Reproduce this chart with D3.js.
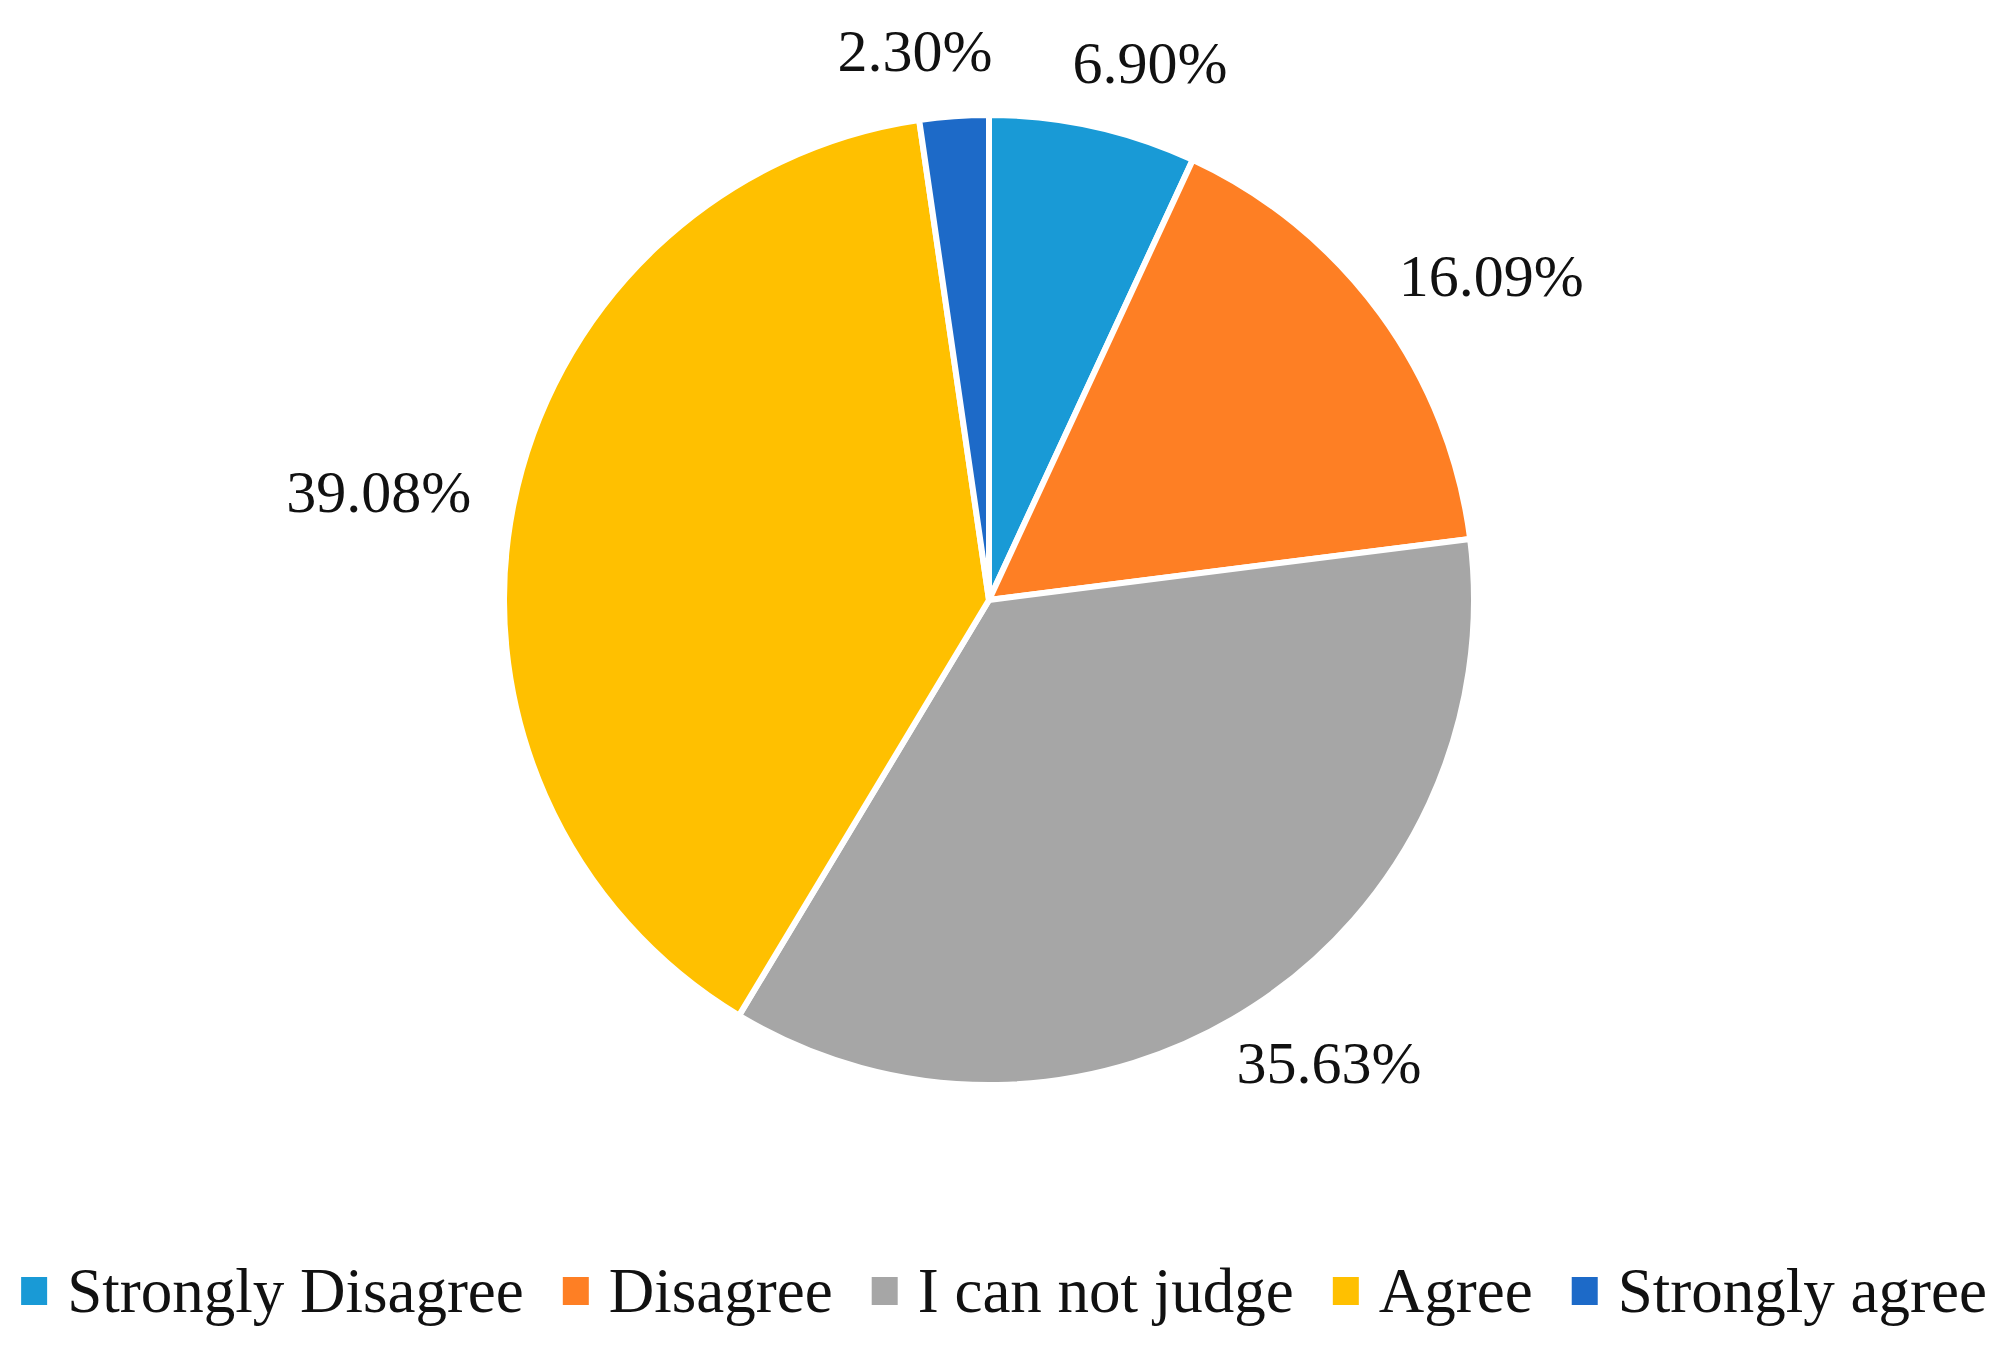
<!DOCTYPE html>
<html>
<head>
<meta charset="utf-8">
<script src="https://cdn.jsdelivr.net/npm/d3@7"></script>
<style>
  body { margin: 0; background: #fff; }
  text { font-family: "Liberation Serif", "DejaVu Serif", serif; fill: #111; }
</style>
</head>
<body>
<div class="chart"></div>
<script>
// Pie chart of survey answers
var categories = ["Strongly Disagree", "Disagree", "I can not judge", "Agree", "Strongly agree"];
var values = [6.90, 16.09, 35.63, 39.08, 2.30];
var labels = ["6.90%", "16.09%", "35.63%", "39.08%", "2.30%"];
var colors = ["#199ad6", "#fe7f24", "#a6a6a6", "#ffc000", "#1d6ac8"];

var svgWidth = 2012;
var svgHeight = 1366;
var cx = 989, cy = 600;
var radius = 485;

var svg = d3.select(".chart")
  .append("svg")
  .attr("width", svgWidth)
  .attr("height", svgHeight);

var data = categories.map(function(c, i) {
  return { name: c, value: values[i], label: labels[i] };
});

var color = d3.scaleOrdinal()
  .domain(categories)
  .range(colors);

// keep the data order, start at 12 o'clock, go clockwise
var pie = d3.pie()
  .sort(null)
  .value(function(d) { return d.value; });

var arc = d3.arc()
  .innerRadius(0)
  .outerRadius(radius);

var arcs = pie(data);

var chart = svg.append("g")
  .attr("transform", "translate(" + cx + "," + cy + ")");

chart.selectAll("path")
  .data(arcs)
  .enter()
  .append("path")
  .attr("d", arc)
  .attr("fill", function(d) { return color(d.data.name); })
  .attr("stroke", "#fff")
  .attr("stroke-width", 6)
  .attr("stroke-linejoin", "round");

// data labels just outside the slice, pushed out by half their box
var labelGap = 45;
var labelSize = 60;
var lbl = chart.selectAll(".lbl")
  .data(arcs)
  .enter()
  .append("text")
  .attr("class", "lbl")
  .attr("text-anchor", "middle")
  .attr("dy", "0.35em")
  .attr("font-size", labelSize + "px")
  .text(function(d) { return d.data.label; });

var boxes = [];
lbl.each(function(d) {
  var a = (d.startAngle + d.endAngle) / 2;
  var w = this.getComputedTextLength();
  var h = labelSize * 0.7;
  var r0 = radius + labelGap;
  var x = Math.sin(a) * r0 + Math.sin(a) * w / 2;
  var y = -Math.cos(a) * r0 - Math.cos(a) * h / 2;
  boxes.push({ node: this, x: x, y: y, w: w, h: h });
});

// spread labels that sit side by side (small slices at the top)
var minGap = 80;
for (var i = 0; i < boxes.length; i++) {
  for (var j = i + 1; j < boxes.length; j++) {
    var b1 = boxes[i], b2 = boxes[j];
    if (Math.abs(b1.y - b2.y) > b1.h) continue;
    var left = b1.x < b2.x ? b1 : b2;
    var right = left === b1 ? b2 : b1;
    var gap = (right.x - right.w / 2) - (left.x + left.w / 2);
    if (gap < minGap) {
      left.x -= (minGap - gap) / 2;
      right.x += (minGap - gap) / 2;
    }
  }
}
boxes.forEach(function(b) {
  d3.select(b.node).attr("x", b.x).attr("y", b.y);
});

// legend along the bottom, centred
var legendY = 1291;
var box = 26;
var legendSize = 63;
var legend = svg.append("g");

var items = legend.selectAll("g")
  .data(categories)
  .enter()
  .append("g");

items.append("rect")
  .attr("width", box)
  .attr("height", box + 2)
  .attr("y", legendY - box / 2 - 1)
  .attr("fill", function(d) { return color(d); });

items.append("text")
  .attr("x", box + 20)
  .attr("y", legendY)
  .attr("dy", "0.33em")
  .attr("font-size", legendSize + "px")
  .text(function(d) { return d; });

var xPos = 0;
items.each(function() {
  var t = d3.select(this).select("text").node().getComputedTextLength();
  d3.select(this).attr("transform", "translate(" + xPos + ",0)");
  xPos += box + 20 + t + 39;
});
var totalW = xPos - 39;
legend.attr("transform", "translate(" + (1004 - totalW / 2) + ",0)");
</script>
</body>
</html>
